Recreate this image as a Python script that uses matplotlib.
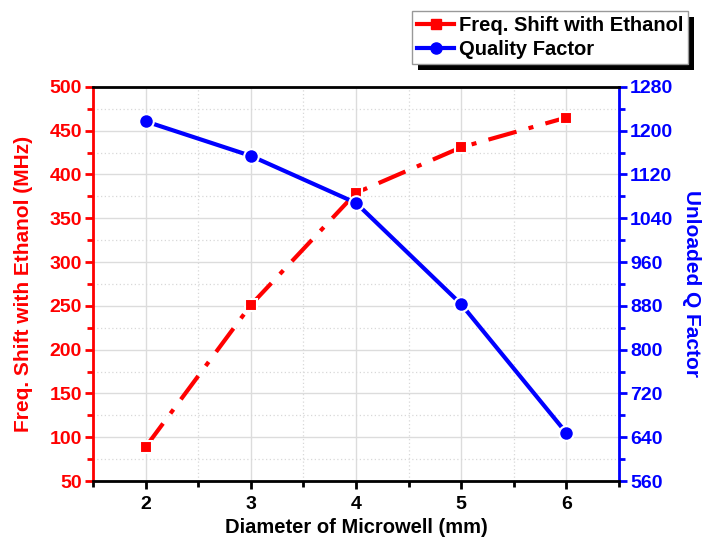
import matplotlib
matplotlib.use('Agg')
import matplotlib.pyplot as plt
from matplotlib.patches import Rectangle
from matplotlib.ticker import MultipleLocator

plt.rcParams['font.family'] = ['Liberation Sans', 'DejaVu Sans']
plt.rcParams['font.weight'] = 'bold'

# microwell diameters (mm)
diameter = [2, 3, 4, 5, 6]
# frequency shift with ethanol (MHz)
freq_shift = [89, 251, 379, 431, 465]
# unloaded quality factor
q_factor = [1217, 1154, 1068, 883, 648]

red = '#ff0000'
blue = '#0000ff'

fig = plt.figure(figsize=(7.05, 5.43), dpi=100)
ax = fig.add_axes([0.132, 0.114, 0.746, 0.726])
ax2 = ax.twinx()

# grid
ax.set_xlim(1.5, 6.5)
ax.set_ylim(50, 500)
ax2.set_ylim(560, 1280)
ax.xaxis.set_major_locator(MultipleLocator(1))
ax.xaxis.set_minor_locator(MultipleLocator(0.5))
ax.yaxis.set_major_locator(MultipleLocator(50))
ax.yaxis.set_minor_locator(MultipleLocator(25))
ax2.yaxis.set_major_locator(MultipleLocator(80))
ax2.yaxis.set_minor_locator(MultipleLocator(40))
ax.grid(which='major', color='#dcdcdc', lw=1, ls='-')
ax.grid(which='minor', color='#d8d8d8', lw=0.9, ls=(0, (1, 2)))
ax.set_axisbelow(True)

# frequency shift
ax.plot(diameter, freq_shift, color=red, lw=3, ls=(0, (7, 3, 1.2, 3)), zorder=3)
ax.plot(diameter, freq_shift, ls='none', marker='s', ms=9, color=red,
        mec='white', mew=1.5, zorder=4)
# quality factor
ax2.plot(diameter, q_factor, color=blue, lw=3, zorder=3)
ax2.plot(diameter, q_factor, ls='none', marker='o', ms=10.5, color=blue,
         mec='white', mew=1.5, zorder=4)

# spines & ticks
for s in ['top', 'bottom']:
    ax2.spines[s].set_color('black')
    ax2.spines[s].set_linewidth(2)
ax2.spines['left'].set_color(red)
ax2.spines['left'].set_linewidth(2)
ax2.spines['right'].set_color(blue)
ax2.spines['right'].set_linewidth(2)
ax.tick_params(axis='x', which='major', direction='out', length=6, width=2,
               labelsize=14, pad=5, top=False)
ax.tick_params(axis='x', which='minor', direction='out', length=4, width=2, top=False)
ax.tick_params(axis='y', which='major', direction='out', length=6, width=2,
               colors=red, labelsize=14, pad=2)
ax.tick_params(axis='y', which='minor', direction='out', length=4, width=2, colors=red)
ax2.tick_params(axis='y', which='major', direction='out', length=6, width=2,
                colors=blue, labelsize=14, pad=2)
ax2.tick_params(axis='y', which='minor', direction='out', length=4, width=2, colors=blue)

ax.set_xlabel('Diameter of Microwell (mm)', fontsize=14.5, fontweight='bold', labelpad=3)
ax.set_ylabel('Freq. Shift with Ethanol (MHz)', fontsize=15, fontweight='bold',
              color=red, labelpad=12)
ax2.set_ylabel('Unloaded Q Factor', fontsize=15, fontweight='bold', color=blue,
               rotation=-90, labelpad=20)

# legend with solid drop shadow
h1 = plt.Line2D([], [], color=red, lw=3, marker='s', ms=7)
h2 = plt.Line2D([], [], color=blue, lw=3, marker='o', ms=8)
leg = fig.legend([h1, h2], ['Freq. Shift with Ethanol', 'Quality Factor'],
                 loc='upper right', bbox_to_anchor=(0.976, 0.98),
                 prop={'size': 14.5, 'weight': 'bold'}, handlelength=1.8,
                 handletextpad=0.25, labelspacing=0.25, borderpad=0.25,
                 borderaxespad=0, frameon=True, fancybox=False,
                 edgecolor='#999999', framealpha=1)
leg.get_frame().set_linewidth(1)
fig.canvas.draw()
bb = leg.get_window_extent()
shadow = Rectangle((bb.x0 + 6, bb.y0 - 6), bb.width, bb.height,
                   transform=None, facecolor='black', edgecolor='none', zorder=leg.get_zorder() - 1)
fig.patches.append(shadow)

fig.savefig('out.png', dpi=100)
